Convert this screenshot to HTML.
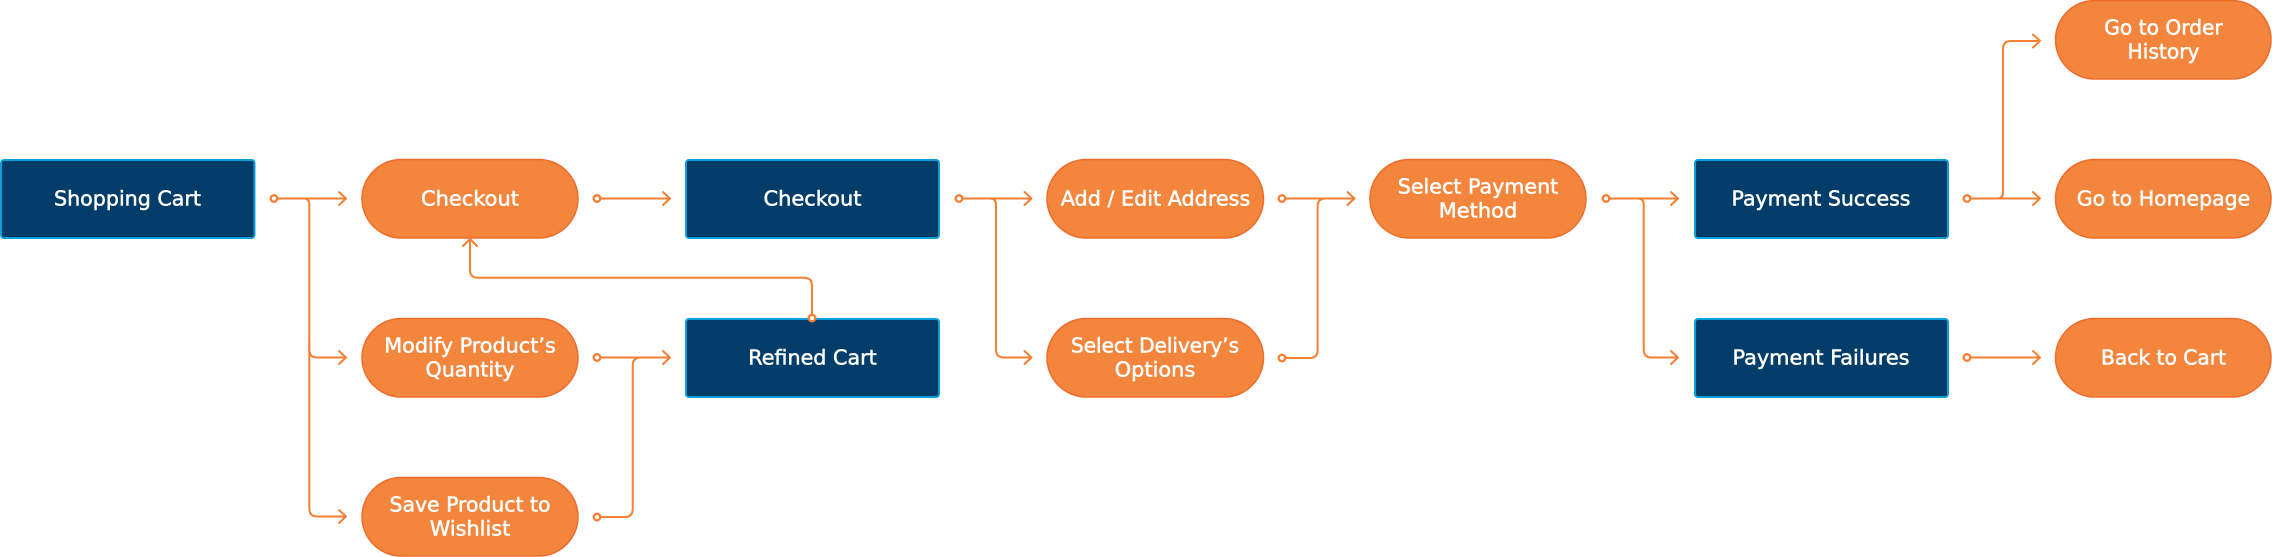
<!DOCTYPE html>
<html><head><meta charset="utf-8"><style>
html,body{margin:0;padding:0;background:#fff;width:2272px;height:557px;overflow:hidden}
svg{display:block}
text{font-family:"DejaVu Sans","Liberation Sans",sans-serif;font-size:20px;fill:#fff;stroke:#fff;stroke-width:.5;text-anchor:middle}
.b{fill:#023c68;stroke:#0d9fdb;stroke-width:2}
.p{fill:#f3853c;stroke:#ee6c2b;stroke-width:1.5}
.l{fill:none;stroke:#f67f33;stroke-width:2;stroke-linecap:round;stroke-linejoin:round}
.d{fill:#fff;stroke:#f67f33;stroke-width:2.4}
</style></head><body>
<svg width="2272" height="557" viewBox="0 0 2272 557" xmlns="http://www.w3.org/2000/svg">
<!-- boxes -->
<rect class="b" x="1" y="160" width="253.5" height="78" rx="3"/>
<rect class="b" x="686" y="160" width="253" height="78" rx="3"/>
<rect class="b" x="686" y="319" width="253" height="78" rx="3"/>
<rect class="b" x="1695" y="160" width="253" height="78" rx="3"/>
<rect class="b" x="1695" y="319" width="253" height="78" rx="3"/>
<!-- pills -->
<rect class="p" x="362" y="159.500" width="216" height="78.500" rx="39.200"/>
<rect class="p" x="362" y="318.500" width="216" height="78.500" rx="39.200"/>
<rect class="p" x="362" y="477.500" width="216" height="78.500" rx="39.200"/>
<rect class="p" x="1047" y="159.500" width="216.500" height="78.500" rx="39.200"/>
<rect class="p" x="1047" y="318.500" width="216.500" height="78.500" rx="39.200"/>
<rect class="p" x="1370" y="159.500" width="216" height="78.500" rx="39.200"/>
<rect class="p" x="2055.500" y="0.500" width="215.500" height="78.500" rx="39.200"/>
<rect class="p" x="2055.500" y="159.500" width="215.500" height="78.500" rx="39.200"/>
<rect class="p" x="2055.500" y="318.500" width="215.500" height="78.500" rx="39.200"/>
<!-- connectors -->
<g class="l">
<path d="M277 198.500H346M339 192l7 6.500-7 6.500"/>
<path d="M304 198.500q5.300 0 5.300 6V349.500q0 8 8 8H346M339 351l7 6.500-7 6.500"/>
<path d="M309.300 340V508.500q0 8 8 8H346M339 510l7 6.500-7 6.500"/>
<path d="M600 198.500H670M663 192l7 6.500-7 6.500"/>
<path d="M600 357.500H670M663 351l7 6.500-7 6.500"/>
<path d="M600 517H624.700q8 0 8-8V365.500q0-8 8-8"/>
<path d="M812 314V285.700q0-8-8-8H478q-8 0-8-8V239M463 246l7-7 7 7"/>
<path d="M962 198.500H1031.500M1024.500 192l7 6.500-7 6.500"/>
<path d="M990 198.500q6 0 6 6V349.500q0 8 8 8h27.500M1024.500 351l7 6.500-7 6.500"/>
<path d="M1285 198.500H1354.500M1347.500 192l7 6.500-7 6.500"/>
<path d="M1285 358H1309.600q8 0 8-8V206.500q0-8 8-8"/>
<path d="M1609 198.500H1678M1671 192l7 6.500-7 6.500"/>
<path d="M1638 198.500q5.700 0 5.700 6V349.500q0 8 8 8H1678M1671 351l7 6.500-7 6.500"/>
<path d="M1970 198.500H2040M2033 192l7 6.500-7 6.500"/>
<path d="M1997 198.500q6 0 6-6V49q0-8 8-8H2040M2033 34.500l7 6.500-7 6.500"/>
<path d="M1970 357.500H2040M2033 351l7 6.500-7 6.500"/>
</g>
<g class="d">
<circle cx="274" cy="198.500" r="3.300"/>
<circle cx="597" cy="198.500" r="3.300"/>
<circle cx="597" cy="357.500" r="3.300"/>
<circle cx="597" cy="517" r="3.300"/>
<circle cx="812" cy="318" r="3.300"/>
<circle cx="959" cy="198.500" r="3.300"/>
<circle cx="1282" cy="198.500" r="3.300"/>
<circle cx="1282" cy="358" r="3.300"/>
<circle cx="1606" cy="198.500" r="3.300"/>
<circle cx="1967" cy="198.500" r="3.300"/>
<circle cx="1967" cy="357.500" r="3.300"/>
</g>
<!-- labels -->
<text x="127.500" y="205.500" textLength="147" lengthAdjust="spacingAndGlyphs">Shopping Cart</text>
<text x="470" y="205.500" textLength="98" lengthAdjust="spacingAndGlyphs">Checkout</text>
<text x="470" y="352.500" textLength="171.500" lengthAdjust="spacingAndGlyphs">Modify Product’s</text>
<text x="470" y="376.500" textLength="89" lengthAdjust="spacingAndGlyphs">Quantity</text>
<text x="470" y="511.500" textLength="161" lengthAdjust="spacingAndGlyphs">Save Product to</text>
<text x="470" y="535.500" textLength="80.500" lengthAdjust="spacingAndGlyphs">Wishlist</text>
<text x="812.500" y="205.500" textLength="98" lengthAdjust="spacingAndGlyphs">Checkout</text>
<text x="812.500" y="364.500" textLength="128.500" lengthAdjust="spacingAndGlyphs">Refined Cart</text>
<text x="1155.500" y="205.500" textLength="189.500" lengthAdjust="spacingAndGlyphs">Add / Edit Address</text>
<text x="1155" y="352.500" textLength="168" lengthAdjust="spacingAndGlyphs">Select Delivery’s</text>
<text x="1155" y="376.500" textLength="80.500" lengthAdjust="spacingAndGlyphs">Options</text>
<text x="1478" y="193.500" textLength="160.500" lengthAdjust="spacingAndGlyphs">Select Payment</text>
<text x="1478" y="217.500" textLength="78.500" lengthAdjust="spacingAndGlyphs">Method</text>
<text x="1821" y="205.500" textLength="179" lengthAdjust="spacingAndGlyphs">Payment Success</text>
<text x="1821" y="364.500" textLength="177" lengthAdjust="spacingAndGlyphs">Payment Failures</text>
<text x="2163.500" y="34.500" textLength="118.500" lengthAdjust="spacingAndGlyphs">Go to Order</text>
<text x="2163.500" y="58.500" textLength="72" lengthAdjust="spacingAndGlyphs">History</text>
<text x="2163.500" y="205.500" textLength="173.500" lengthAdjust="spacingAndGlyphs">Go to Homepage</text>
<text x="2163.500" y="364.500" textLength="125" lengthAdjust="spacingAndGlyphs">Back to Cart</text>
</svg>
</body></html>
